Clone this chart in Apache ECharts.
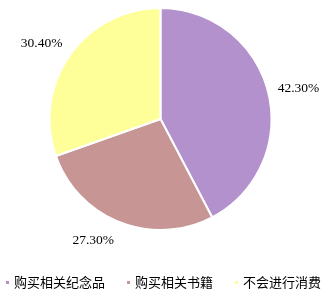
<!DOCTYPE html>
<html><head><meta charset="utf-8">
<script src="https://cdn.jsdelivr.net/npm/echarts@6/dist/echarts.min.js"></script>
<style>html,body{margin:0;padding:0;background:#fff}#c{width:330px;height:297px}</style>
</head><body><div id="c"></div>
<script>
const categories = ["购买相关纪念品", "购买相关书籍", "不会进行消费"];
const values = [42.3, 27.3, 30.4];
const colors = ["#B391CC", "#C79594", "#FFFF99"];
const data = categories.map((n, i) => ({name: n, value: values[i], itemStyle: {color: colors[i]}}));
const chart = echarts.init(document.getElementById('c'), null, {renderer: 'canvas'});
chart.setOption({
  animation: false,
  legend: {
    top: 276, left: 4, padding: 0, width: 330, itemWidth: 5, itemHeight: 5, itemGap: 20, icon: 'rect',
    textStyle: {fontFamily: '"Noto Sans CJK SC"', fontSize: 13, color: '#000', padding: [0, 0, 0, -1]},
    data: categories
  },
  series: [{
    type: 'pie', center: [160.5, 119], radius: 111, startAngle: 90, clockwise: true,
    itemStyle: {borderColor: '#fff', borderWidth: 2},
    label: {show: true, position: 'outside', overflow: 'none', formatter: p => p.value.toFixed(2) + '%',
      fontFamily: '"Liberation Serif", serif', fontSize: 13.5, color: '#000'},
    labelLine: {show: false, length: 19, length2: 0},
    labelLayout: p => ({dx: [-14, 6, 13][p.dataIndex], dy: [1, 0, 0][p.dataIndex]}),
    data: data
  }]
});
</script></body></html>
